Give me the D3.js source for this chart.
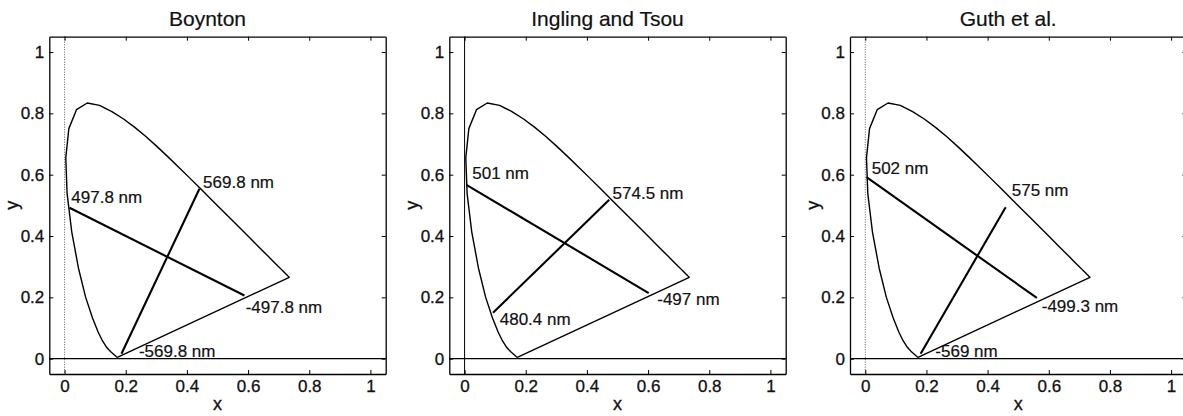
<!DOCTYPE html>
<html>
<head>
<meta charset="utf-8">
<script src="https://cdn.jsdelivr.net/npm/d3@7"></script>
<style>
  body { margin: 0; background: #fff; }
  svg { display: block; font-family: "Liberation Sans", Arial, sans-serif; }
  .tick-label { font-size: 17px; fill: #111; stroke: #111; stroke-width: 0.3px; }
  .axis-label { font-size: 18px; fill: #111; stroke: #111; stroke-width: 0.3px; }
  .title { font-size: 21px; fill: #111; stroke: #111; stroke-width: 0.2px; }
  .nm-label { font-size: 17px; fill: #111; stroke: #111; stroke-width: 0.2px; }
</style>
</head>
<body>
<svg id="chart"></svg>
<script>
// CIE 1931 spectral locus (5 nm steps, 380-700 nm)
const locusX = [0.1741, 0.1740, 0.1738, 0.1736, 0.1733, 0.1730, 0.1726, 0.1721, 0.1714, 0.1703,
    0.1689, 0.1669, 0.1644, 0.1611, 0.1566, 0.1510, 0.1440, 0.1355, 0.1241, 0.1096,
    0.0913, 0.0687, 0.0454, 0.0235, 0.0082, 0.0039, 0.0139, 0.0389, 0.0743, 0.1142,
    0.1547, 0.1929, 0.2296, 0.2658, 0.3016, 0.3373, 0.3731, 0.4087, 0.4441, 0.4788,
    0.5125, 0.5448, 0.5752, 0.6029, 0.6270, 0.6482, 0.6658, 0.6801, 0.6915, 0.7006,
    0.7079, 0.7140, 0.7190, 0.7230, 0.7260, 0.7283, 0.7300, 0.7311, 0.7320, 0.7327,
    0.7334, 0.7340, 0.7344, 0.7346, 0.7347];
const locusY = [0.0050, 0.0050, 0.0049, 0.0049, 0.0048, 0.0048, 0.0048, 0.0048, 0.0051, 0.0058,
    0.0069, 0.0086, 0.0109, 0.0138, 0.0177, 0.0227, 0.0297, 0.0399, 0.0578, 0.0868,
    0.1327, 0.2007, 0.2950, 0.4127, 0.5384, 0.6548, 0.7502, 0.8120, 0.8338, 0.8262,
    0.8059, 0.7816, 0.7543, 0.7243, 0.6923, 0.6589, 0.6245, 0.5896, 0.5547, 0.5202,
    0.4866, 0.4544, 0.4242, 0.3965, 0.3725, 0.3514, 0.3340, 0.3197, 0.3083, 0.2993,
    0.2920, 0.2859, 0.2809, 0.2770, 0.2740, 0.2717, 0.2700, 0.2689, 0.2680, 0.2673,
    0.2666, 0.2660, 0.2656, 0.2654, 0.2653];

const titles = ["Boynton", "Ingling and Tsou", "Guth et al."];
const axisTicks = [0, 0.2, 0.4, 0.6, 0.8, 1];

// unique-hue lines per model: [[x1, y1], [x2, y2]]
const boyntonLines = [[[0.016, 0.492], [0.588, 0.206]], [[0.441, 0.554], [0.186, 0.016]]];
const inglingLines = [[[0.006, 0.567], [0.602, 0.214]], [[0.093, 0.150], [0.473, 0.518]]];
const guthLines = [[[0.004, 0.592], [0.561, 0.198]], [[0.181, 0.016], [0.459, 0.494]]];

// wavelength annotations: text, x, y (baseline, data units)
const boyntonLabels = [
    { text: "569.8 nm", x: 0.453, y: 0.555 },
    { text: "497.8 nm", x: 0.022, y: 0.506 },
    { text: "-497.8 nm", x: 0.592, y: 0.148 },
    { text: "-569.8 nm", x: 0.243, y: 0.006 }
];
const inglingLabels = [
    { text: "501 nm", x: 0.025, y: 0.585 },
    { text: "574.5 nm", x: 0.484, y: 0.522 },
    { text: "-497 nm", x: 0.630, y: 0.174 },
    { text: "480.4 nm", x: 0.115, y: 0.109 }
];
const guthLabels = [
    { text: "502 nm", x: 0.021, y: 0.603 },
    { text: "575 nm", x: 0.479, y: 0.532 },
    { text: "-499.3 nm", x: 0.577, y: 0.152 },
    { text: "-569 nm", x: 0.229, y: 0.005 }
];

const panelLines = [boyntonLines, inglingLines, guthLines];
const panelLabels = [boyntonLabels, inglingLabels, guthLabels];
const dottedZero = [true, false, true];

const width = 1183, height = 416;
const svg = d3.select("#chart").attr("width", width).attr("height", height);

const plotW = 336.4, plotH = 337.3;
const panelLeft = [49.3, 449.3, 850];
const plotTop = 36.7;

const xScale = d3.scaleLinear().domain([-0.05, 1.05]).range([0, plotW]);
const yScale = d3.scaleLinear().domain([-0.05, 1.05]).range([plotH, 0]);
const fmt = d => d === 0 ? "0" : d === 1 ? "1" : d3.format(".1f")(d);

const locus = locusX.map((x, i) => [x, locusY[i]]);
const line = d3.line().x(d => xScale(d[0])).y(d => yScale(d[1]));

titles.forEach((title, p) => {
    const g = svg.append("g")
        .attr("transform", `translate(${panelLeft[p]},${plotTop})`);

    g.append("text")
        .attr("class", "title")
        .attr("x", plotW / 2 - 10)
        .attr("y", -11)
        .attr("text-anchor", "middle")
        .text(title);

    // zero reference lines
    g.append("line")
        .attr("x1", xScale(0)).attr("x2", xScale(0))
        .attr("y1", 0).attr("y2", plotH)
        .attr("stroke", dottedZero[p] ? "#555" : "#000")
        .attr("stroke-width", 1)
        .attr("stroke-dasharray", dottedZero[p] ? "1,1.5" : null);
    g.append("line")
        .attr("x1", 0).attr("x2", plotW)
        .attr("y1", yScale(0)).attr("y2", yScale(0))
        .attr("stroke", "#000")
        .attr("stroke-width", 1.1);

    // spectral locus closed with purple line
    g.append("path")
        .attr("d", line(locus.concat([locus[0]])))
        .attr("fill", "none")
        .attr("stroke", "#000")
        .attr("stroke-width", 1.4)
        .attr("stroke-linejoin", "round");

    g.selectAll(".hue-line")
        .data(panelLines[p])
        .join("path")
        .attr("class", "hue-line")
        .attr("d", d => line(d))
        .attr("stroke", "#000")
        .attr("stroke-width", 2.1);

    g.selectAll(".nm-label")
        .data(panelLabels[p])
        .join("text")
        .attr("class", "nm-label")
        .attr("x", d => xScale(d.x))
        .attr("y", d => yScale(d.y))
        .text(d => d.text);

    // axes: ticks inside on all four sides (boxed)
    const bottom = d3.axisBottom(xScale).tickValues(axisTicks).tickSizeInner(-4).tickSizeOuter(0).tickPadding(6).tickFormat(fmt);
    const top = d3.axisTop(xScale).tickValues(axisTicks).tickSizeInner(-4).tickSizeOuter(0).tickFormat("");
    const left = d3.axisLeft(yScale).tickValues(axisTicks).tickSizeInner(-4).tickSizeOuter(0).tickPadding(5).tickFormat(fmt);
    const right = d3.axisRight(yScale).tickValues(axisTicks).tickSizeInner(-4).tickSizeOuter(0).tickFormat("");

    const styleAxis = a => {
        a.select(".domain").attr("stroke", "#000").attr("stroke-width", 1.3);
        a.selectAll(".tick line").attr("stroke", "#000");
        a.selectAll(".tick text").attr("class", "tick-label");
        a.attr("font-family", null).attr("font-size", null);
    };
    g.append("g").attr("transform", `translate(0,${plotH})`).call(bottom).call(styleAxis);
    g.append("g").call(top).call(styleAxis);
    g.append("g").call(left).call(styleAxis);
    g.append("g").attr("transform", `translate(${plotW},0)`).call(right).call(styleAxis);

    g.append("text")
        .attr("class", "axis-label")
        .attr("x", plotW / 2)
        .attr("y", plotH + 36)
        .attr("text-anchor", "middle")
        .text("x");
    g.append("text")
        .attr("class", "axis-label")
        .attr("transform", `translate(-31,${plotH / 2}) rotate(-90)`)
        .attr("text-anchor", "middle")
        .text("y");
});
</script>
</body>
</html>
